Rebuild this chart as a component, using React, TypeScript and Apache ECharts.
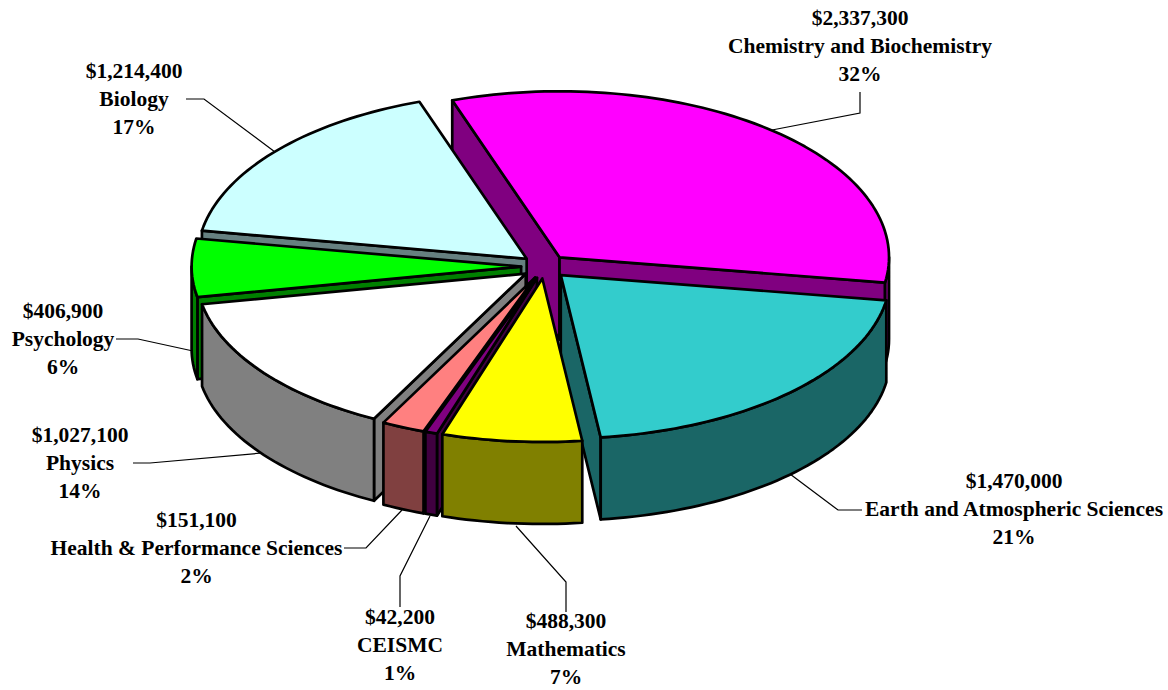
import React, { useEffect, useRef } from "react";
import * as echarts from "echarts";

const names = ["Chemistry and Biochemistry", "Earth and Atmospheric Sciences", "Mathematics", "CEISMC", "Health & Performance Sciences", "Physics", "Psychology", "Biology"];
const values = [2337300, 1470000, 488300, 42200, 151100, 1027100, 406900, 1214400];
const percents = ["32%", "21%", "7%", "1%", "2%", "14%", "6%", "17%"];
const topColors = ["#FF00FF", "#33CCCC", "#FFFF00", "#800080", "#FF8080", "#FFFFFF", "#00FF00", "#CCFFFF"];
const sideColors = ["#800080", "#1A6666", "#808000", "#400040", "#804040", "#808080", "#008000", "#668080"];
const drawOrder = [0, 7, 6, 5, 1, 4, 3, 2];
const labelCenters = [[860, 46], [1014, 509], [566, 649], [400, 645], [196.5, 548], [80, 463], [63, 339], [134, 99]];
const leaders = [
  [[860, 92], [860, 113], [772, 130]],
  [[862, 510], [838, 510], [790, 474]],
  [[566, 612], [566, 582], [516, 526]],
  [[400, 607], [400, 576], [430, 516]],
  [[344, 548], [366, 548], [402, 510]],
  [[133, 463], [150, 463], [262, 453]],
  [[116, 339], [138, 339], [193, 351]],
  [[186, 99], [204, 99], [275, 152]],
];

const CX = 544.5, CY = 266.5, RX = 329.5, RY_BACK = 166, RY_FRONT = 163.5, DEPTH = 82;
const EXPLODE_X = 23.4, EXPLODE_Y = 12, START = -19;
const fmt = (v: number) => "$" + v.toLocaleString("en-US");
const total = values.reduce((a, b) => a + b, 0);
const spans = values.map((v) => (v / total) * 360);
const starts = spans.map((_, i) => START + spans.slice(0, i).reduce((a, b) => a + b, 0));

const rad = (d: number) => (d * Math.PI) / 180;
const pt = (c: number[], d: number, dy = 0) => {
  const k = Math.cos(rad(d));
  return [c[0] + RX * Math.sin(rad(d)), c[1] - (k > 0 ? RY_BACK : RY_FRONT) * k + dy];
};

function arcPts(c: number[], a: number, b: number, dy = 0) {
  const n = Math.max(2, Math.ceil(Math.abs(b - a) / 1.5));
  const out: number[][] = [];
  for (let i = 0; i <= n; i++) out.push(pt(c, a + ((b - a) * i) / n, dy));
  return out;
}

const stroke = { stroke: "#000", lineWidth: 2.7, lineJoin: "round" as const };

function renderSlice(params: any, api: any) {
  const i = api.value(0);
  const a = starts[i], b = a + spans[i];
  const mid = (a + b) / 2;
  const c = [CX + EXPLODE_X * Math.sin(rad(mid)), CY - EXPLODE_Y * Math.cos(rad(mid))];
  const side = { fill: sideColors[i], ...stroke };
  const children: any[] = [];
  const face = (d: number) => {
    const p = pt(c, d);
    return { type: "polygon", shape: { points: [c, p, [p[0], p[1] + DEPTH], [c[0], c[1] + DEPTH]] }, style: side };
  };
  // a cut face shows only when its downward shift falls outside the slice's top
  if (Math.sin(rad(a)) < 0) children.push(face(a));
  if (Math.sin(rad(b)) > 0) children.push(face(b));
  // outer wall: only the portion facing the viewer (90° to 270° clockwise from top)
  const wa = Math.max(a, 90), wb = Math.min(b, 270);
  if (wb > wa) {
    children.push({
      type: "polygon",
      shape: { points: [...arcPts(c, wa, wb), ...arcPts(c, wb, wa, DEPTH)] },
      style: side,
    });
  }
  children.push({
    type: "polygon",
    shape: { points: [c, ...arcPts(c, a, b)] },
    style: { fill: topColors[i], ...stroke },
  });
  return { type: "group", children };
}

export default function App() {
  const ref = useRef<HTMLDivElement>(null);
  useEffect(() => {
    const chart = echarts.init(ref.current!, undefined, { renderer: "svg" });
    const font = { fontFamily: "Liberation Serif", fontWeight: "bold" as const, fontSize: 21.5, lineHeight: 28, fill: "#000", align: "center" as const, verticalAlign: "middle" as const };
    chart.setOption({
      animation: false,
      backgroundColor: "#fff",
      xAxis: { show: false, min: 0, max: 1168, type: "value" },
      yAxis: { show: false, min: 0, max: 690, type: "value", inverse: true },
      grid: { left: 0, right: 0, top: 0, bottom: 0 },
      series: [{
        type: "custom",
        coordinateSystem: "none",
        silent: true,
        renderItem: renderSlice,
        data: drawOrder.map((i) => [i]),
        encode: { value: 0 },
      }],
      graphic: [
        ...leaders.map((pts) => ({ type: "polyline", z: 5, shape: { points: pts }, style: { stroke: "#000", lineWidth: 1.2, fill: "none" } })),
        ...names.map((n, i) => ({
          type: "text", z: 6, x: labelCenters[i][0], y: labelCenters[i][1],
          style: { ...font, text: `${fmt(values[i])}\n${n}\n${percents[i]}` },
        })),
      ],
    });
    return () => chart.dispose();
  }, []);
  return <div ref={ref} style={{ position: "absolute", left: 0, top: 0, width: 1168, height: 690 }} />;
}
